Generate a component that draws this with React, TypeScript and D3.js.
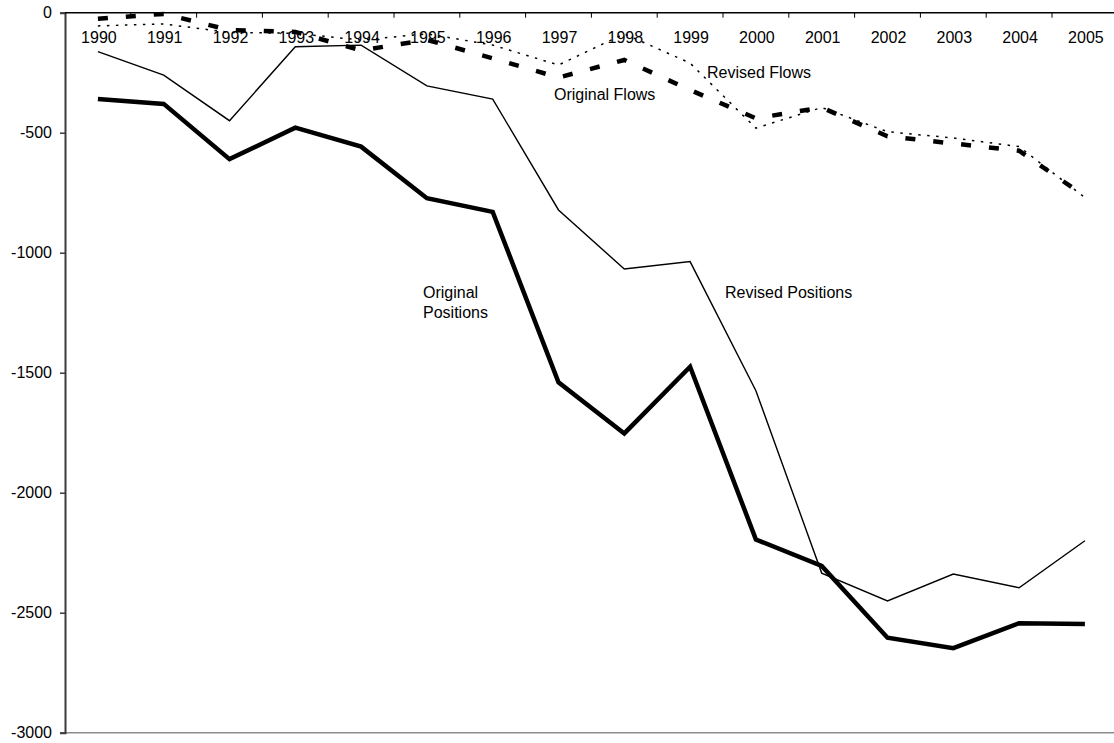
import { useEffect, useRef } from "react";
import * as d3 from "d3";

const years = [
  "1990", "1991", "1992", "1993", "1994", "1995", "1996", "1997",
  "1998", "1999", "2000", "2001", "2002", "2003", "2004", "2005",
];

const originalPositions = [
  -360, -380, -610, -479, -558, -773, -830, -1540, -1753, -1475, -2195, -2305,
  -2604, -2648, -2544, -2547,
];
const revisedPositions = [
  -162, -260, -450, -142, -135, -305, -360, -822, -1068, -1037, -1575, -2335,
  -2451, -2339, -2396, -2200,
];
const originalFlows = [
  -25, -5, -72, -80, -157, -113, -190, -270, -197, -322, -440, -395, -515,
  -545, -575, -765,
];
const revisedFlows = [
  -55, -47, -82, -86, -114, -88, -135, -218, -88, -210, -481, -395, -496, -522,
  -558, -770,
];

const yTicks = [0, -500, -1000, -1500, -2000, -2500, -3000];

const W = 1114;
const H = 743;
const FONT = "'Liberation Sans', Arial, sans-serif";

export default function App() {
  const ref = useRef<SVGSVGElement>(null);

  useEffect(() => {
    const svg = d3.select(ref.current);
    svg.selectAll("*").remove();

    const left = 65;
    const step = 65.8;
    const top = 12.7;
    const bottom = 732.7;

    const x = d3
      .scaleBand<string>()
      .domain(years)
      .range([left, left + step * years.length])
      .padding(0);
    const cx = (d: string) => (x(d) as number) + x.bandwidth() / 2;

    const y = d3.scaleLinear().domain([-3000, 0]).range([bottom, top]);

    svg.append("rect").attr("width", W).attr("height", H).attr("fill", "white");

    // bottom border of plot area
    svg
      .append("line")
      .attr("x1", left)
      .attr("x2", W)
      .attr("y1", bottom)
      .attr("y2", bottom)
      .attr("stroke", "#8c8c8c")
      .attr("stroke-width", 1.5);

    // y axis
    const yAxis = svg
      .append("g")
      .attr("transform", `translate(${left},0)`)
      .call(
        d3
          .axisLeft(y)
          .tickValues(yTicks)
          .tickSize(5)
          .tickPadding(8)
          .tickFormat((d) => String(d))
      );
    yAxis.select(".domain").attr("stroke", "#3a3a3a").attr("stroke-width", 2);
    yAxis.selectAll(".tick line").attr("stroke", "#3a3a3a").attr("stroke-width", 1.5);
    yAxis
      .selectAll(".tick text")
      .attr("font-family", FONT)
      .attr("font-size", 16)
      .attr("fill", "#000");

    // category axis along the top (crosses at 0)
    const xg = svg.append("g");
    xg.append("line")
      .attr("x1", left)
      .attr("x2", W)
      .attr("y1", y(0))
      .attr("y2", y(0))
      .attr("stroke", "#000")
      .attr("stroke-width", 1.5);
    xg.selectAll("line.tk")
      .data(years.slice(1).concat(["end"]))
      .enter()
      .append("line")
      .attr("class", "tk")
      .attr("x1", (_d, i) => (x(years[i]) as number) + x.bandwidth())
      .attr("x2", (_d, i) => (x(years[i]) as number) + x.bandwidth())
      .attr("y1", y(0))
      .attr("y2", y(0) + 5)
      .attr("stroke", "#000")
      .attr("stroke-width", 1);
    xg.selectAll("text")
      .data(years)
      .enter()
      .append("text")
      .attr("x", (d) => cx(d) + 1)
      .attr("y", 42.5)
      .attr("text-anchor", "middle")
      .attr("font-family", FONT)
      .attr("font-size", 16)
      .attr("fill", "#000")
      .text((d) => d);

    const line = d3
      .line<number>()
      .x((_d, i) => cx(years[i]))
      .y((d) => y(d));

    const series = [
      { data: revisedFlows, width: 1.5, dash: "2.5,6.5" },
      { data: originalFlows, width: 4.5, dash: "10,18" },
      { data: revisedPositions, width: 1.4, dash: null },
      { data: originalPositions, width: 4.5, dash: null },
    ];

    series.forEach((s) => {
      svg
        .append("path")
        .datum(s.data)
        .attr("fill", "none")
        .attr("stroke", "#000")
        .attr("stroke-width", s.width)
        .attr("stroke-linejoin", "miter")
        .attr("stroke-dasharray", s.dash)
        .attr("d", line);
    });

    const labels = [
      { text: ["Revised Flows"], x: 707, y: 77.5 },
      { text: ["Original Flows"], x: 554, y: 100 },
      { text: ["Original", "Positions"], x: 423, y: 298 },
      { text: ["Revised Positions"], x: 725, y: 298 },
    ];
    labels.forEach((l) => {
      const t = svg
        .append("text")
        .attr("x", l.x)
        .attr("y", l.y)
        .attr("font-family", FONT)
        .attr("font-size", 16)
        .attr("fill", "#000");
      l.text.forEach((s, i) => {
        t.append("tspan")
          .attr("x", l.x)
          .attr("dy", i === 0 ? 0 : 20)
          .text(s);
      });
    });
  }, []);

  return (
    <div style={{ position: "absolute", left: 0, top: 0 }}>
      <svg ref={ref} width={W} height={H} style={{ display: "block" }} />
    </div>
  );
}
